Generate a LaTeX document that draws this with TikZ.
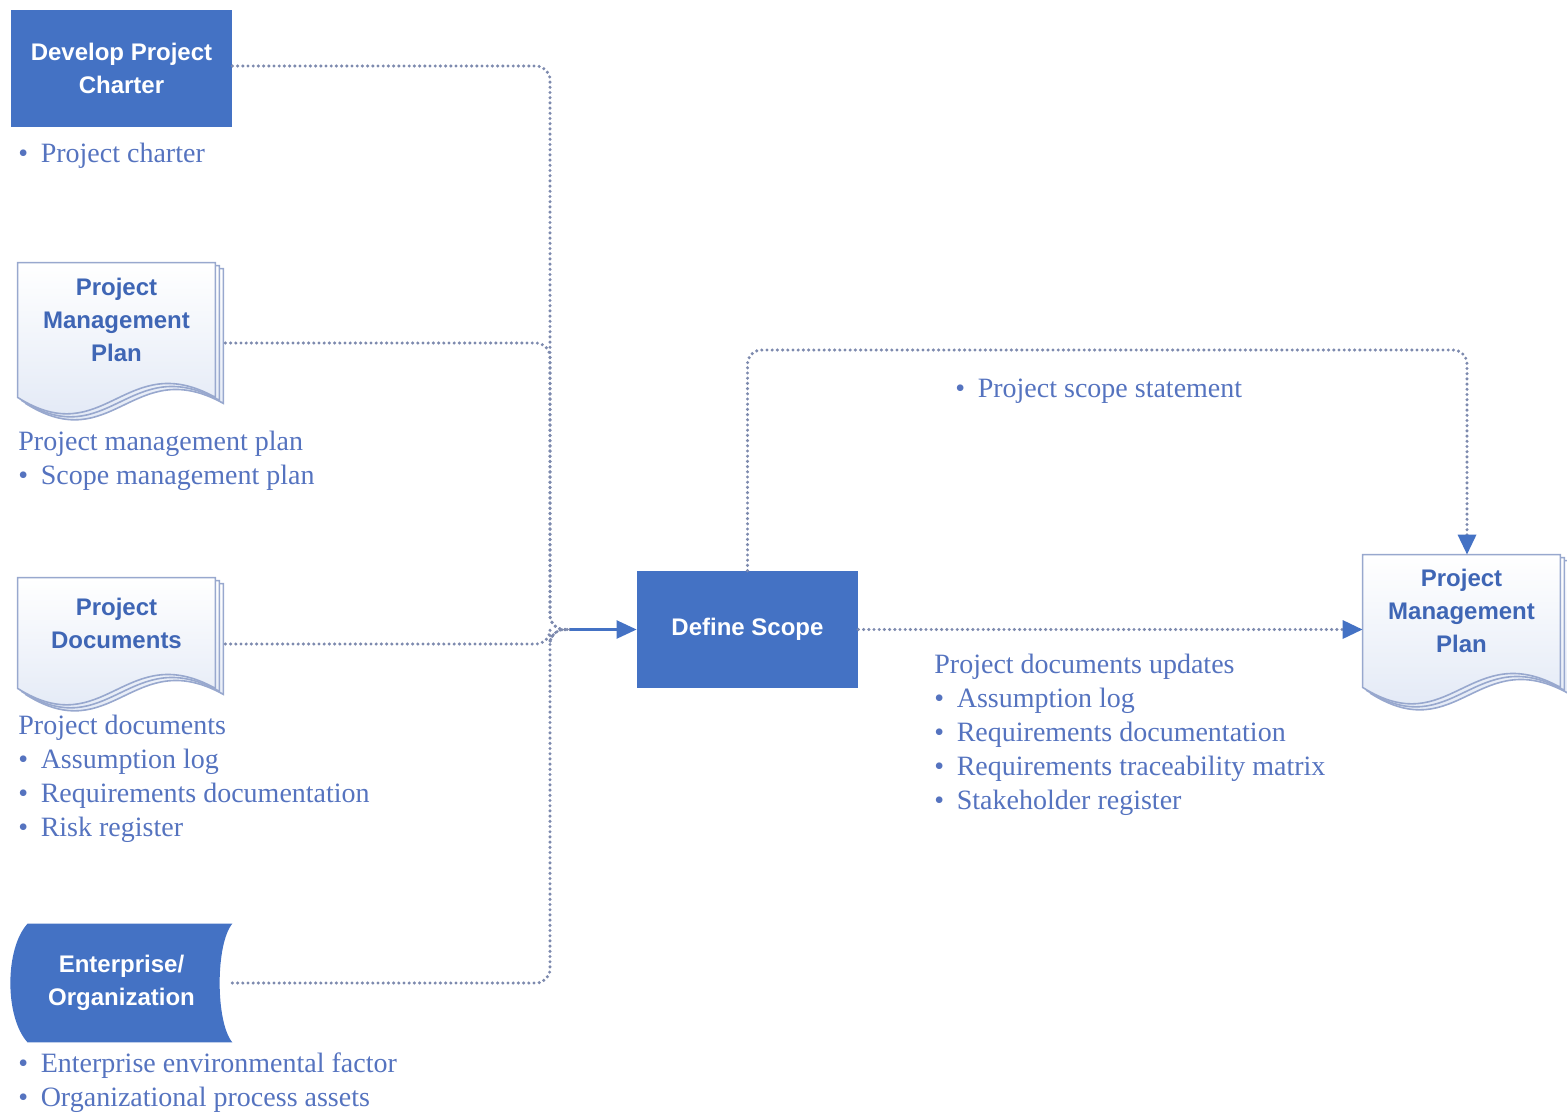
\documentclass[tikz,border=0pt]{standalone}
\usepackage{fontspec}
\setmainfont{Liberation Serif}
\setsansfont{Liberation Sans}
\usetikzlibrary{arrows.meta,backgrounds,calc}

\definecolor{pmblue}{HTML}{4472C4}
\definecolor{pmtext}{HTML}{3F66B5}
\definecolor{pmlabel}{HTML}{5573BF}
\definecolor{pmline}{HTML}{7D8AAE}
\definecolor{pmedge}{HTML}{98A8CE}
\definecolor{pmpage}{HTML}{DDE5F4}

% stacked wavy page behind a doc node
\newcommand{\docpage}[1]{%
  \begin{pgfonlayer}{background}
  \foreach \dx/\dy in {8/6,4/3,0/0}{
    \draw[pmedge, line width=0.8pt, top color=white, bottom color=pmpage]
      ($(#1.north west)+(\dx,\dy)$) -- ($(#1.north east)+(\dx,\dy)$)
      -- ($(#1.south east)+(\dx,\dy+20)$)
      .. controls +(-90,-50) and +(87,55) .. ($(#1.south west)+(\dx,\dy+20)$)
      -- cycle;
  }
  \end{pgfonlayer}}

% stored-data shape behind a node
\newcommand{\storedpage}[1]{%
  \begin{pgfonlayer}{background}
  \fill[pmblue] ($(#1.north west)+(17,0)$) -- (#1.north east)
    .. controls +(-17,20) and +(-17,-20) .. (#1.south east)
    -- ($(#1.south west)+(17,0)$)
    .. controls +(-23,-25) and +(-23,25) .. ($(#1.north west)+(17,0)$) -- cycle;
  \end{pgfonlayer}}

\begin{document}
\begin{tikzpicture}[
    x=0.5pt, y=-0.5pt,
    box/.style={fill=pmblue, text=white, align=center, inner sep=0pt,
                font=\sffamily\bfseries\fontsize{12}{16.5}\selectfont,
                minimum width=110.5pt, minimum height=58.5pt},
    doc/.style={text=pmtext, align=center, inner sep=0pt,
                font=\sffamily\bfseries\fontsize{12}{16.5}\selectfont,
                minimum width=98.5pt},
    note/.style={text=pmlabel, align=left, inner sep=0pt, anchor=west,
                 font=\fontsize{14}{17}\selectfont},
    flow/.style={pmline, line width=1.7pt, line cap=round,
                 dash pattern=on 0pt off 2.6pt, rounded corners=7pt},
    tip/.style={-{Triangle[length=10pt, width=9pt, color=pmblue]}},
    arr/.style={pmblue, line width=1.2pt, tip}
  ]
    \useasboundingbox (0,0) rectangle (1567,1114);

    % inputs
    \node[box] (charter) at (121.5,68) {Develop Project\\Charter};
    \node[doc, minimum height=57pt] (pmp) at (116.5,320) {Project\\Management\\Plan};
    \node[doc, minimum height=45pt] (docs) at (116.5,623) {Project\\Documents};
    \node[box, minimum height=59pt, fill=none] (ent) at (121.5,983) {Enterprise/\\Organization};
    \docpage{pmp}
    \docpage{docs}
    \storedpage{ent}

    \node[note] (charterlbl) at (18,156) {•\hspace{0.45em}Project charter};
    \node[note] (pmplbl) at (18,460.5) {Project management plan\\
      •\hspace{0.45em}Scope management plan};
    \node[note] (docslbl) at (18,778.5) {Project documents\\
      •\hspace{0.45em}Assumption log\\
      •\hspace{0.45em}Requirements documentation\\
      •\hspace{0.45em}Risk register};
    \node[note] (entlbl) at (18,1083) {•\hspace{0.45em}Enterprise environmental factor\\
      •\hspace{0.45em}Organizational process assets};

    % process and output
    \node[box] (scope) at (747.5,629.5) {Define Scope};
    \node[doc, minimum height=56pt] (pmpout) at (1461.5,611) {Project\\Management\\Plan};
    \docpage{pmpout}

    \node[note] (stmtlbl) at (955,391) {•\hspace{0.45em}Project scope statement};
    \node[note] (updlbl) at (934,735) {Project documents updates\\
      •\hspace{0.45em}Assumption log\\
      •\hspace{0.45em}Requirements documentation\\
      •\hspace{0.45em}Requirements traceability matrix\\
      •\hspace{0.45em}Stakeholder register};

    % connectors
    \coordinate (bus) at (550,629.5);
    \coordinate (hub) at (570,629.5);
    \coordinate (ridge) at (1467,350);
    \draw[flow] ([yshift=1pt]charter.east) -| (bus) -- (hub);
    \draw[flow, shorten <=5pt] ([yshift=-11.5pt]pmp.east) -| (bus) -- (hub);
    \draw[flow, shorten <=5pt] ([yshift=-10.5pt]docs.east) -| (bus) -- (hub);
    \draw[flow] (ent.east) -| (bus) -- (hub);
    \draw[arr] (hub) -- (scope.west);

    \draw[flow, tip] (scope.east) -- (scope.east -| pmpout.west);
    \draw[flow, tip] (scope.north) |- (ridge) -- (ridge |- pmpout.north);
  \end{tikzpicture}
\end{document}
